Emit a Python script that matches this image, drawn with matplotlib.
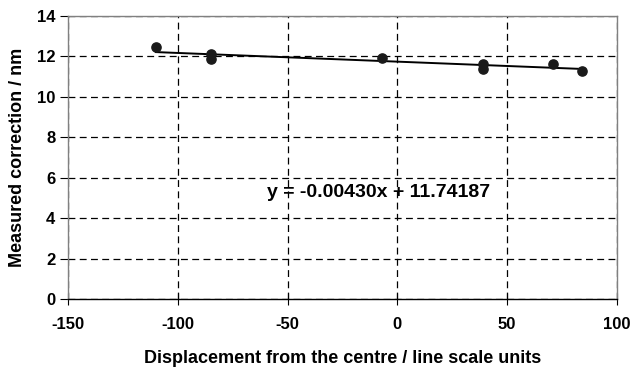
import matplotlib
matplotlib.use("Agg")
import matplotlib.pyplot as plt
import numpy as np

plt.rcParams['font.family'] = ['Liberation Sans', 'DejaVu Sans']
plt.rcParams['font.weight'] = 'bold'
plt.rcParams['axes.unicode_minus'] = False

x_vals = [-110, -85, -85, -7, 39, 39, 71, 84]
y_vals = [12.45, 12.1, 11.85, 11.9, 11.65, 11.37, 11.65, 11.3]
slope = -0.00430
intercept = 11.74187
x_ticks = [-150, -100, -50, 0, 50, 100]
y_ticks = [0, 2, 4, 6, 8, 10, 12, 14]
eq_text = "y = -0.00430x + 11.74187"
x_label = "Displacement from the centre / line scale units"
y_label = "Measured correction / nm"

fig = plt.figure(figsize=(6.32, 3.69), dpi=100)
ax = fig.add_axes([68/632, 1-299/369, (617-68)/632, (299-16)/369])

ax.set_xlim(-150, 100)
ax.set_ylim(0, 14)
ax.set_xticks(x_ticks)
ax.set_yticks(y_ticks)
ax.grid(True, color='black', linestyle=(0, (5.5, 3.5)), linewidth=0.9)
ax.set_axisbelow(True)

xl = np.array([min(x_vals), max(x_vals)])
ax.plot(xl, slope * xl + intercept, color='black', linewidth=1.4, zorder=3)
ax.scatter(x_vals, y_vals, s=44, color='#1a1a1a', zorder=4)

for s in ['top', 'right', 'left']:
    ax.spines[s].set_color('#808080')
    ax.spines[s].set_linewidth(1.0)
ax.spines['bottom'].set_color('black')
ax.spines['bottom'].set_linewidth(1.0)

ax.tick_params(axis='x', direction='inout', length=8, labelsize=12, pad=9, color='black')
ax.tick_params(axis='y', direction='out', length=6, labelsize=12, pad=3, color='black')
for lab in ax.get_xticklabels() + ax.get_yticklabels():
    lab.set_fontweight('bold')

ax.set_xlabel(x_label, fontsize=13, fontweight='bold', labelpad=13)
ax.set_ylabel(y_label, fontsize=13, fontweight='bold', labelpad=8)

ax.text(-59.5, 5.05, eq_text, fontsize=14, fontweight='bold', ha='left', va='baseline')

fig.savefig("out.png", dpi=100)
